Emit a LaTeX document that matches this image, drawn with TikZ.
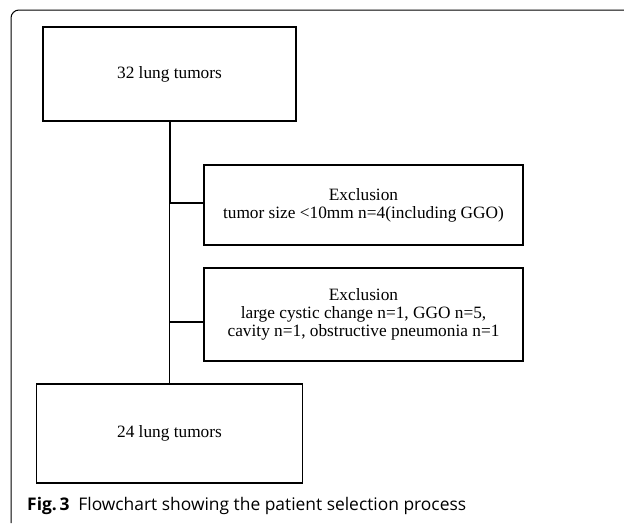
\documentclass[tikz,border=0pt]{standalone}
\usepackage{fontspec}
\setmainfont{Liberation Serif}
\newfontfamily\capfont{Open Sans}
\usepackage{tikz}
\usetikzlibrary{positioning}
\tikzset{
  stagebox/.style={draw,line width=1.3pt,rectangle,align=center,inner sep=2pt},
  linkline/.style={line width=1.3pt}
}

\begin{document}
\begin{tikzpicture}[x=1pt,y=-1pt,font=\fontsize{17.3}{18}\selectfont]
\useasboundingbox (0,0) rectangle (624,523);
% frame round the figure
\draw[line width=1pt,rounded corners=8] (11,523) -- (11,10) -- (624,10);
% boxes
\node[stagebox,minimum width=253pt,minimum height=94pt] (all) at (169.5,74) {32 lung tumors};
\node[stagebox,minimum width=319pt,minimum height=80pt] (excl1) at (363.5,205) {Exclusion\\tumor size <10mm n=4(including GGO)};
\node[stagebox,minimum width=319pt,minimum height=93pt] (excl2) at (363.5,314.5) {Exclusion\\large cystic change n=1, GGO n=5,\\cavity n=1, obstructive pneumonia n=1};
\node[stagebox,minimum width=266pt,minimum height=99pt] (final) at (169.5,433.5) {24 lung tumors};
% branch points on the main line
\coordinate (j1) at (169.5,203);
\coordinate (j2) at (169.5,322);
% main line and branches
\draw[line width=2pt] (all.south) -- (j1);
\draw[linkline] (j1) -- (final.north);
\draw[linkline] (j1) -- (j1 -| excl1.west);
\draw[linkline] (j2) -- (j2 -| excl2.west);
% caption
\node[anchor=base west,inner sep=0pt,font=\capfont\fontsize{17.4}{19}\selectfont] (caption) at (27,510) {\textbf{Fig.\,3}\hspace{0.5em}Flowchart showing the patient selection process};
\end{tikzpicture}
\end{document}
